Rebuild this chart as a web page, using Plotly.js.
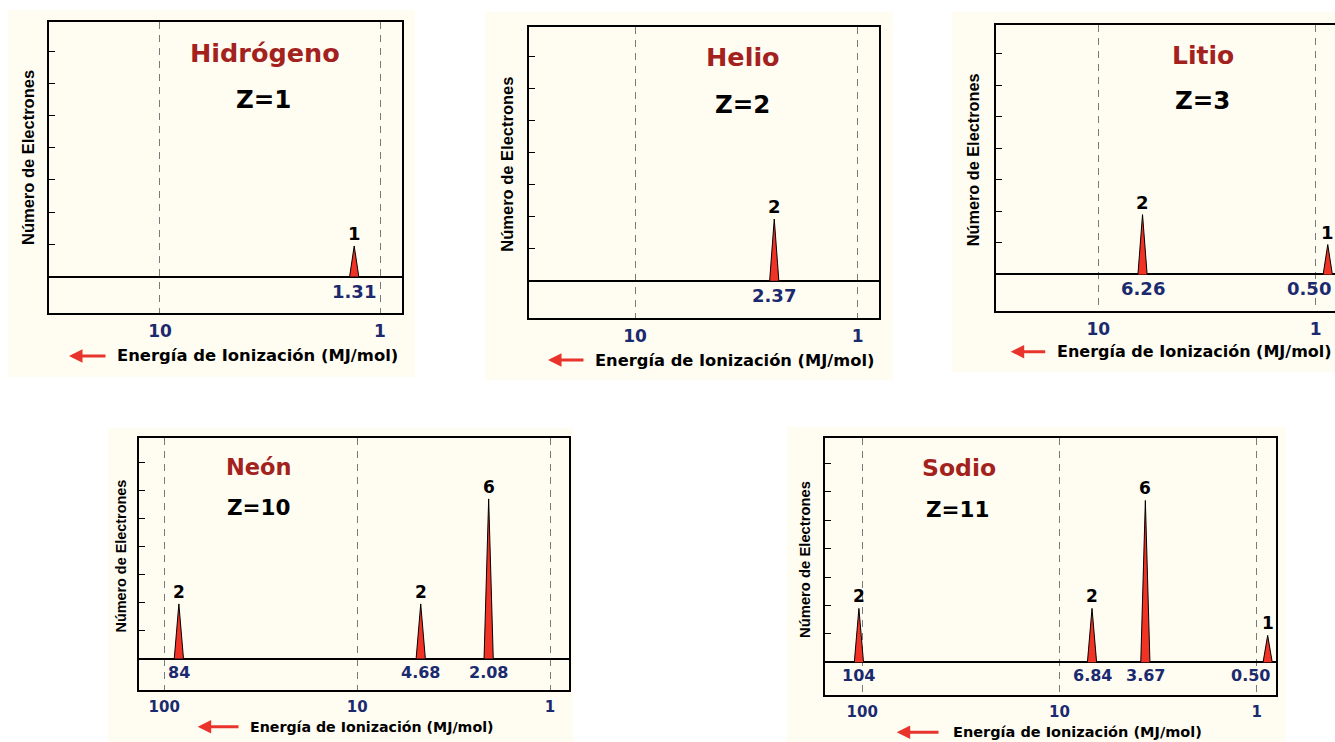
<!DOCTYPE html>
<html><head><meta charset="utf-8">
<script src="https://cdn.plot.ly/plotly-3.0.1.min.js"></script>
<style>html,body{margin:0;padding:0;background:#fff}#chart{width:1335px;height:742px}</style>
</head><body><div id="chart"></div>
<script>
// ---------------- DATA ----------------
const elementos = ['Hidrógeno', 'Helio', 'Litio', 'Neón', 'Sodio'];
const numeroAtomico = [1, 2, 3, 10, 11];

const hEnergia = [1.31];               const hElectrones = [1];          const hAltura = [0.95];
const heEnergia = [2.37];              const heElectrones = [2];         const heAltura = [1.93];
const liEnergia = [6.26, 0.50];        const liElectrones = [2, 1];      const liAltura = [1.9, 0.95];
const neEnergia = [84, 4.68, 2.08];    const neElectrones = [2, 2, 6];   const neAltura = [1.95, 1.95, 5.7];
const naEnergia = [104, 6.84, 3.67, 0.50]; const naElectrones = [2, 2, 6, 1]; const naAltura = [1.9, 1.9, 5.7, 0.95];

const ticksDos = [10, 1];
const ticksTres = [100, 10, 1];
const ejeXTitulo = 'Energía de Ionización (MJ/mol)';
const ejeYTitulo = 'Número de Electrones';

// The source schematic draws off-scale peaks (< 1 MJ/mol) just right of the "1" line
const limiteDibujo = 0.88;
const posDibujo = e => Math.max(e, limiteDibujo);
const fmt = e => e >= 10 ? String(e) : e.toFixed(2);

// ---------------- STYLE / LAYOUT ----------------
const W = 1335, H = 742;
const X = p => p / W, Y = p => 1 - p / H;
const CREAM = '#fffdf2', NAVY = '#1b2a6e', TITLE_RED = '#a3221e', PEAK = '#f03325', ARROW = '#e8342c';
const DJ = 'DejaVu Sans', LB = 'Liberation Sans, Arial, sans-serif';

const panels = [
  {E: hEnergia, N: hElectrones, A: hAltura, box: [49, 22, 402, 313], xr: [1.5045, -0.1], yr: [-1.13, 7.90], dec: 220.3, ticks: ticksDos,
   bg: [8, 10, 415, 377], name: [265, 53, 25.5], z: [263, 99, 24.5], xt: [257, 356, 16.4], arrow: [69, 107, 356], yt: [28, 158, 16.5],
   tickFont: 17, valFont: 18, cntFont: 18, mirrorY: true, edgePad: 4},
  {E: heEnergia, N: heElectrones, A: heAltura, box: [529, 26.7, 879, 317.7], xr: [1.476, -0.0956], yr: [-1.15, 7.93], dec: 222.7, ticks: ticksDos,
   bg: [485, 12, 893, 380], name: [743, 56.7, 25.5], z: [742.5, 104, 24.5], xt: [734, 360, 16.3], arrow: [548, 585, 360], yt: [506.7, 164, 16.5],
   tickFont: 17, valFont: 18, cntFont: 18, mirrorY: true, edgePad: 4},
  {E: liEnergia, N: liElectrones, A: liAltura, box: [995.7, 25, 1335, 311], xr: [1.472, -0.0888], yr: [-1.16, 7.92], dec: 217.4, ticks: ticksDos,
   bg: [952, 12, 1335, 372], name: [1202.8, 55, 25], z: [1202, 100.7, 24.5], xt: [1194, 351.7, 16], arrow: [1010.7, 1046.7, 351.7], yt: [973.3, 160, 16.3],
   tickFont: 17, valFont: 18, cntFont: 18, mirrorY: false, edgePad: 2},
  {E: neEnergia, N: neElectrones, A: neAltura, box: [139, 438, 569, 689.5], xr: [2.131, -0.0985], yr: [-1.107, 7.875], dec: 192.85, ticks: ticksTres,
   bg: [108, 428, 573, 742], name: [259.3, 466.7, 22.5], z: [258.7, 507.3, 21.5], xt: [371.5, 726.7, 14.2], arrow: [197.7, 240, 726.7], yt: [120, 556.5, 14.4],
   tickFont: 15, valFont: 16, cntFont: 17, mirrorY: true, edgePad: 4},
  {E: naEnergia, N: naElectrones, A: naAltura, box: [825, 437.7, 1275.7, 695.3], xr: [2.189, -0.0963], yr: [-1.16, 7.91], dec: 197.2, ticks: ticksTres,
   bg: [786.7, 426.7, 1286, 742], name: [959, 467.7, 23.5], z: [958, 509.3, 21.5], xt: [1077.5, 732.3, 14.5], arrow: [896.7, 940, 732.3], yt: [805, 560, 14.8],
   tickFont: 15, valFont: 16, cntFont: 17, mirrorY: true, edgePad: 4}
];

const traces = [], annotations = [], shapes = [];
const layout = {
  width: W, height: H, margin: {l: 0, r: 0, t: 0, b: 0},
  paper_bgcolor: '#ffffff', plot_bgcolor: CREAM, showlegend: false,
  font: {family: DJ, color: '#000'}
};

panels.forEach((p, i) => {
  const k = i + 1, sfx = k === 1 ? '' : String(k);
  const xa = 'x' + sfx, ya = 'y' + sfx;
  const halfW = Math.pow(10, 4.6 / p.dec);

  shapes.push({type: 'rect', xref: 'paper', yref: 'paper', layer: 'below',
    x0: X(p.bg[0]), x1: X(p.bg[2]), y0: Y(p.bg[3]), y1: Y(p.bg[1]), fillcolor: CREAM, line: {width: 0}});

  layout['xaxis' + sfx] = {
    type: 'log', domain: [X(p.box[0]), X(p.box[2])], range: p.xr, anchor: ya,
    tickvals: p.ticks, ticktext: p.ticks.map(String), ticks: '', ticklabelstandoff: 2,
    tickfont: {family: DJ, size: p.tickFont, color: NAVY, weight: 'bold'},
    showgrid: true, gridcolor: '#7a7a7a', gridwidth: 1, griddash: '7px,6px',
    showline: true, mirror: true, linecolor: '#000', linewidth: 2, zeroline: false, fixedrange: true
  };
  layout['yaxis' + sfx] = {
    domain: [Y(p.box[3]), Y(p.box[1])], range: p.yr, anchor: xa,
    tickvals: [1, 2, 3, 4, 5, 6, 7], ticks: 'inside', ticklen: 6, tickwidth: 1, tickcolor: '#000',
    showticklabels: false, showgrid: false,
    zeroline: true, zerolinecolor: '#000', zerolinewidth: 2,
    showline: true, mirror: p.mirrorY, linecolor: '#000', linewidth: 2, fixedrange: true
  };

  p.E.forEach((e, j) => {
    const x = posDibujo(e), h = p.A[j];
    const offScale = e < limiteDibujo;
    traces.push({type: 'scatter', mode: 'lines', xaxis: xa, yaxis: ya,
      x: [x * halfW, x, x / halfW], y: [0, h, 0], fill: 'toself', fillcolor: PEAK,
      line: {color: '#000', width: 1}, hoverinfo: 'skip'});
    annotations.push({xref: xa, yref: ya, x: Math.log10(x), y: h, yanchor: 'bottom', yshift: 0,
      text: String(p.N[j]), showarrow: false, font: {family: DJ, size: p.cntFont, color: '#000', weight: 'bold'}});
    // off-scale values are written against the right edge of the box, as in the source
    annotations.push({xref: xa, yref: ya, x: offScale ? p.xr[1] : Math.log10(x), y: 0, yanchor: 'top', yshift: -2,
      xanchor: offScale ? 'right' : 'center', xshift: offScale ? -p.edgePad : 0,
      text: fmt(e), showarrow: false, font: {family: DJ, size: p.valFont, color: NAVY, weight: 'bold'}});
  });

  // panel name and Z
  annotations.push({xref: 'paper', yref: 'paper', x: X(p.name[0]), y: Y(p.name[1]), xanchor: 'center', yanchor: 'middle',
    text: elementos[i], showarrow: false, font: {family: DJ, size: p.name[2], color: TITLE_RED, weight: 'bold'}});
  annotations.push({xref: 'paper', yref: 'paper', x: X(p.z[0]), y: Y(p.z[1]), xanchor: 'center', yanchor: 'middle',
    text: 'Z=' + numeroAtomico[i], showarrow: false, font: {family: DJ, size: p.z[2], color: '#000', weight: 'bold'}});
  // axis titles
  annotations.push({xref: 'paper', yref: 'paper', x: X(p.xt[0]), y: Y(p.xt[1]), xanchor: 'center', yanchor: 'middle',
    text: ejeXTitulo, showarrow: false, font: {family: DJ, size: p.xt[2], color: '#000', weight: 'bold'}});
  annotations.push({xref: 'paper', yref: 'paper', x: X(p.yt[0]), y: Y(p.yt[1]), xanchor: 'center', yanchor: 'middle',
    text: ejeYTitulo, textangle: -90, showarrow: false, font: {family: LB, size: p.yt[2], color: '#000', weight: 'bold'}});
  // red arrow
  annotations.push({xref: 'paper', yref: 'paper', x: X(p.arrow[0]), y: Y(p.arrow[2]), ax: p.arrow[1] - p.arrow[0], ay: 0,
    axref: 'pixel', ayref: 'pixel', text: '', showarrow: true, arrowhead: 2, arrowsize: 0.9, arrowwidth: 3, arrowcolor: ARROW, standoff: 0});
});

layout.shapes = shapes;
layout.annotations = annotations;
Plotly.newPlot('chart', traces, layout, {displayModeBar: false, staticPlot: true});
</script>
</body></html>
